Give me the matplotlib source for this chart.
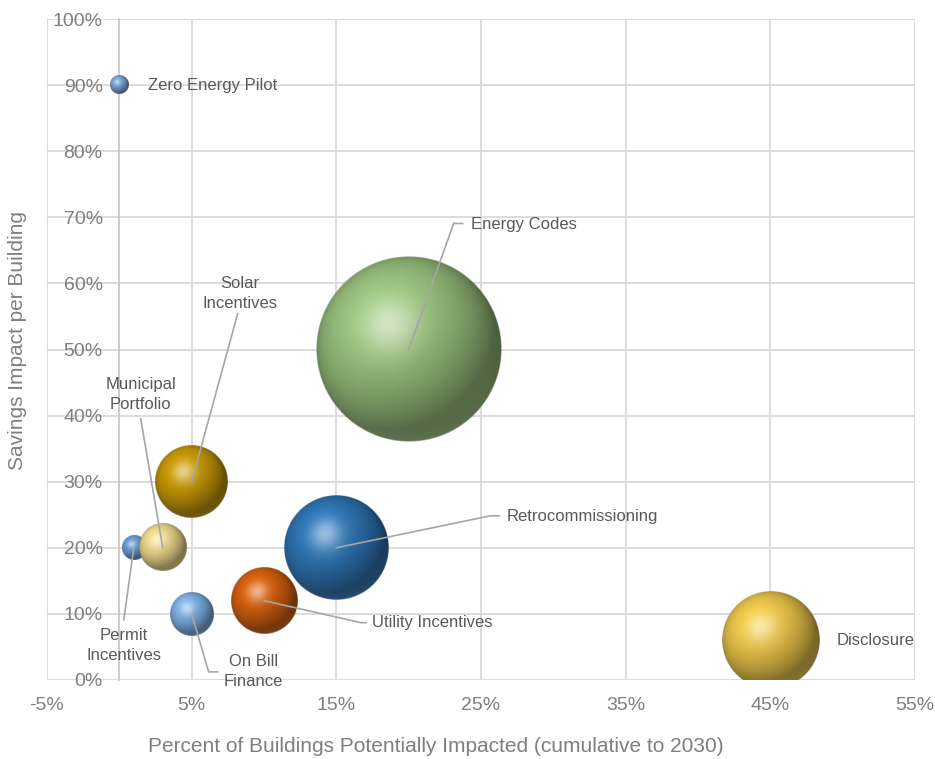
import numpy as np
import matplotlib
matplotlib.use("Agg")
import matplotlib.pyplot as plt
from matplotlib.colors import to_rgb
from matplotlib.ticker import FuncFormatter

plt.rcParams['font.family'] = ['Liberation Sans', 'DejaVu Sans']

# data (percent)
programs = ["Zero Energy Pilot", "Energy Codes", "Solar\nIncentives", "Permit\nIncentives",
            "Municipal\nPortfolio", "On Bill\nFinance", "Utility Incentives",
            "Retrocommissioning", "Disclosure"]
buildings_pct = [0, 20, 5, 1, 3, 5, 10, 15, 45]
savings_pct = [90, 50, 30, 20, 20, 10, 12, 20, 6]
bubble_size = [1.0, 100, 15.4, 1.7, 6.4, 5.4, 12.6, 31.3, 27.2]
colors = ["#7aa8d8", "#9cc47f", "#c99a06", "#6b9fd6", "#efdb8e", "#80b2e6",
          "#d9620e", "#2f77b8", "#f0c94a"]

x_ticks = [-5, 5, 15, 25, 35, 45, 55]
y_ticks = list(range(0, 101, 10))

# label layout: text offset (px), alignment, leader line points (px)
label_style = [
    ((29, 0), "left", None),
    ((62, 125), "left", [(0, 0), (45, 126), (54, 126)]),
    ((48, 188), "center", [(0, 0), (46, 168)]),
    ((-10, -98), "center", [(0, 0), (-10, -72)]),
    ((-22, 153), "center", [(0, 0), (-22, 129)]),
    ((62, -58), "center", [(0, 0), (17, -58), (26, -58)]),
    ((108, -22), "left", [(0, 0), (97, -22), (102, -22)]),
    ((170, 31), "left", [(0, 0), (154, 32), (163, 32)]),
    ((66, 0), "left", None),
]


def sphere(color, n=300):
    base = np.array(to_rgb(color))
    u = np.linspace(-1, 1, n)
    uu, vv = np.meshgrid(u, u)
    r2 = uu ** 2 + vv ** 2
    z = np.sqrt(np.clip(1 - r2, 0, 1))
    L = np.array([-0.4, 0.5, 0.77])
    L = L / np.linalg.norm(L)
    diff = np.clip(uu * L[0] + vv * L[1] + z * L[2], 0, 1)
    H = L + np.array([0, 0, 1.0])
    H = H / np.linalg.norm(H)
    spec = np.clip(uu * H[0] + vv * H[1] + z * H[2], 0, 1) ** 20
    shade = 0.55 + 0.5 * diff
    rim = 0.62 + 0.38 * z ** 0.25
    refl = 0.12 * np.clip(-vv, 0, 1) * (1 - z) ** 2
    rgb = base[None, None, :] * (shade * rim)[..., None]
    rgb = rgb + (spec * 0.5)[..., None] * (1 - base[None, None, :]) + refl[..., None]
    rgb = np.clip(rgb, 0, 1)
    alpha = np.clip((1 - np.sqrt(r2)) * n / 2, 0, 1)
    return np.dstack([rgb, alpha])


fig = plt.figure(figsize=(9.35, 7.59), dpi=100)
W, H = 935, 759
ax = fig.add_axes([47 / W, (H - 680) / H, 868 / W, 661 / H])
ax.set_xlim(-5, 55)
ax.set_ylim(0, 100)

ax.set_xticks(x_ticks)
ax.set_yticks(y_ticks)
fmt = FuncFormatter(lambda v, p: f"{v:.0f}%")
ax.xaxis.set_major_formatter(fmt)
ax.yaxis.set_major_formatter(fmt)
ax.grid(True, color="#d9d9d9", linewidth=1.3, zorder=0)
ax.set_axisbelow(True)
ax.tick_params(length=0, labelsize=14, labelcolor="#7f7f7f", pad=12)
for s in ["top", "right", "bottom"]:
    ax.spines[s].set_visible(False)
ax.spines['left'].set_position(('data', 0))
ax.spines['left'].set_color("#c8c8c8")
ax.spines['left'].set_linewidth(1.3)

# pixel scale of the data axes
bbox = ax.get_window_extent()
px_x = bbox.width / 60.0
px_y = bbox.height / 100.0
k = 9.3  # px radius per sqrt(size)

for i in range(len(programs)):
    x, y = buildings_pct[i], savings_pct[i]
    r = k * np.sqrt(bubble_size[i])
    rx, ry = r / px_x, r / px_y
    ax.imshow(sphere(colors[i]), extent=[x - rx, x + rx, y - ry, y + ry],
              origin="lower", interpolation="bilinear", aspect="auto", zorder=3)

for i in range(len(programs)):
    x, y = buildings_pct[i], savings_pct[i]
    (dx, dy), ha, line = label_style[i]
    if line:
        lx = [x + p[0] / px_x for p in line]
        ly = [y + p[1] / px_y for p in line]
        ax.plot(lx, ly, color="#a6a6a6", linewidth=1.2, zorder=4, clip_on=False)
    ax.text(x + dx / px_x, y + dy / px_y, programs[i], ha=ha, va="center",
            fontsize=12, color="#595959", linespacing=1.4, zorder=5)

ax.set_xlim(-5, 55)
ax.set_ylim(0, 100)

fig.text(18 / W, 1 - 341 / H, "Savings Impact per Building", rotation=90,
         ha="center", va="center", fontsize=15, color="#7f7f7f")
fig.text(436 / W, 1 - 747 / H, "Percent of Buildings Potentially Impacted (cumulative to 2030)",
         ha="center", va="center", fontsize=15, color="#7f7f7f")

fig.savefig("out.png", dpi=100)
